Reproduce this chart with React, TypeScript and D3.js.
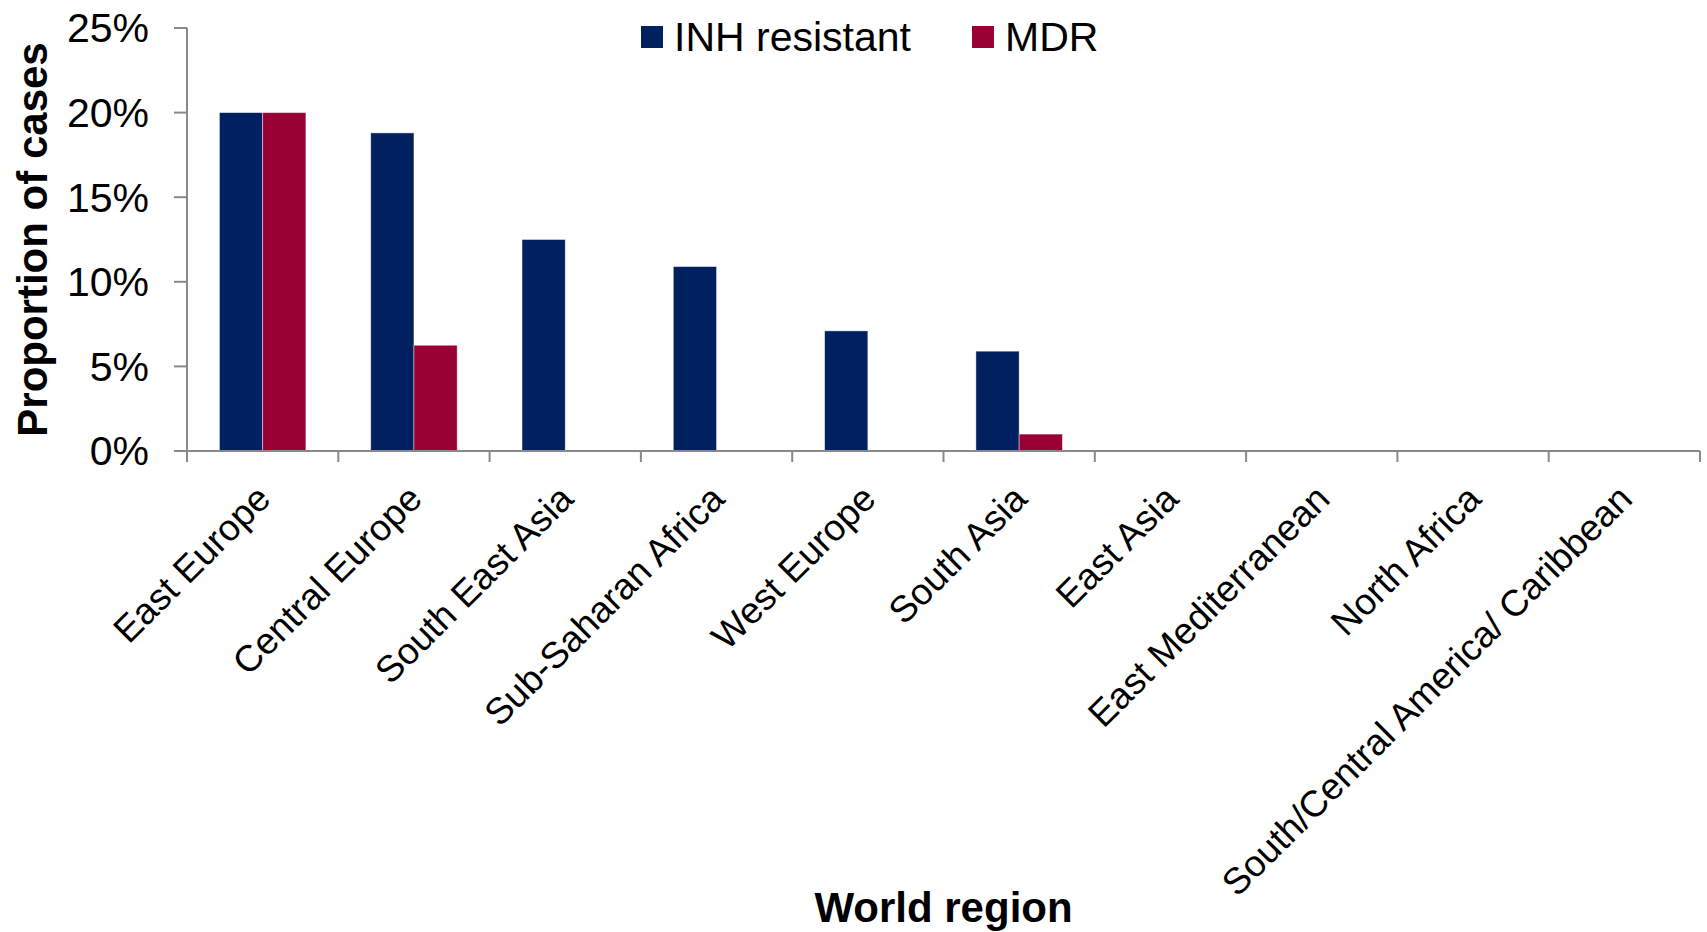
import React from "react";
import * as d3 from "d3";

// Share of cases (%) by world region
const regions = [
  "East Europe",
  "Central Europe",
  "South East Asia",
  "Sub-Saharan Africa",
  "West Europe",
  "South Asia",
  "East Asia",
  "East Mediterranean",
  "North Africa",
  "South/Central America/ Caribbean",
];
const inhResistant = [20, 18.8, 12.5, 10.9, 7.1, 5.9, 0, 0, 0, 0];
const mdr = [20, 6.25, 0, 0, 0, 1.0, 0, 0, 0, 0];

const seriesNames = ["INH resistant", "MDR"];
const seriesColors = ["#00205f", "#990033"];
const yTicks = [0, 5, 10, 15, 20, 25];

const WIDTH = 1707;
const HEIGHT = 932;
const FONT = "'Liberation Sans', Arial, Helvetica, sans-serif";

export default function App() {
  const left = 187;
  const right = 1700;
  const top = 28;
  const bottom = 451;

  const x = d3.scaleBand<string>().domain(regions).range([left, right]).padding(0);
  const xInner = d3
    .scaleBand<string>()
    .domain(seriesNames)
    .range([0, x.bandwidth()])
    .paddingInner(0)
    .paddingOuter(0.75);
  const y = d3.scaleLinear().domain([0, 25]).range([bottom, top]);

  const series = [inhResistant, mdr];
  const axisColor = "#898989";

  const boundaries = regions.map((r) => x(r) as number).concat([right]);

  return (
    <svg
      width={WIDTH}
      height={HEIGHT}
      style={{ position: "absolute", left: 0, top: 0, background: "#fff" }}
      fontFamily={FONT}
    >
      <rect x={0} y={0} width={WIDTH} height={HEIGHT} fill="#fff" />

      {/* bars */}
      {regions.map((r, i) =>
        series.map((vals, s) =>
          vals[i] > 0 ? (
            <rect
              key={`${r}-${s}`}
              x={(x(r) as number) + (xInner(seriesNames[s]) as number)}
              y={y(vals[i])}
              width={xInner.bandwidth()}
              height={y(0) - y(vals[i])}
              fill={seriesColors[s]}
              stroke="#ffffff"
              strokeOpacity={0.55}
              strokeWidth={0.8}
            />
          ) : null
        )
      )}

      {/* y axis */}
      <line x1={left} x2={left} y1={top} y2={bottom} stroke={axisColor} strokeWidth={2} />
      {yTicks.map((t) => (
        <g key={t}>
          <line x1={left - 13} x2={left} y1={y(t)} y2={y(t)} stroke={axisColor} strokeWidth={2} />
          <text
            x={149}
            y={y(t)}
            dy="0.35em"
            textAnchor="end"
            fontSize={41}
            fill="#000"
          >
            {`${t}%`}
          </text>
        </g>
      ))}

      {/* x axis */}
      <line x1={left - 13} x2={right} y1={bottom} y2={bottom} stroke={axisColor} strokeWidth={2} />
      {boundaries.map((bx, i) => (
        <line key={i} x1={bx} x2={bx} y1={bottom} y2={bottom + 11} stroke={axisColor} strokeWidth={2} />
      ))}
      {regions.map((r) => {
        const cx = (x(r) as number) + x.bandwidth() / 2;
        return (
          <text
            key={r}
            transform={`translate(${cx + 10},${bottom + 50}) rotate(-45)`}
            textAnchor="end"
            fontSize={37}
            fill="#000"
          >
            {r}
          </text>
        );
      })}

      {/* axis titles */}
      <text
        transform={`translate(47,${(top + bottom) / 2}) rotate(-90)`}
        textAnchor="middle"
        fontSize={42}
        fontWeight="bold"
        fill="#000"
      >
        Proportion of cases
      </text>
      <text
        x={(left + right) / 2}
        y={922}
        textAnchor="middle"
        fontSize={42}
        fontWeight="bold"
        fill="#000"
      >
        World region
      </text>

      {/* legend */}
      {[
        { sx: 641, tx: 674 },
        { sx: 972, tx: 1005 },
      ].map((pos, s) => (
        <g key={seriesNames[s]}>
          <rect x={pos.sx} y={26} width={22} height={22} fill={seriesColors[s]} />
          <text x={pos.tx} y={51} fontSize={41} fill="#000">
            {seriesNames[s]}
          </text>
        </g>
      ))}
    </svg>
  );
}
